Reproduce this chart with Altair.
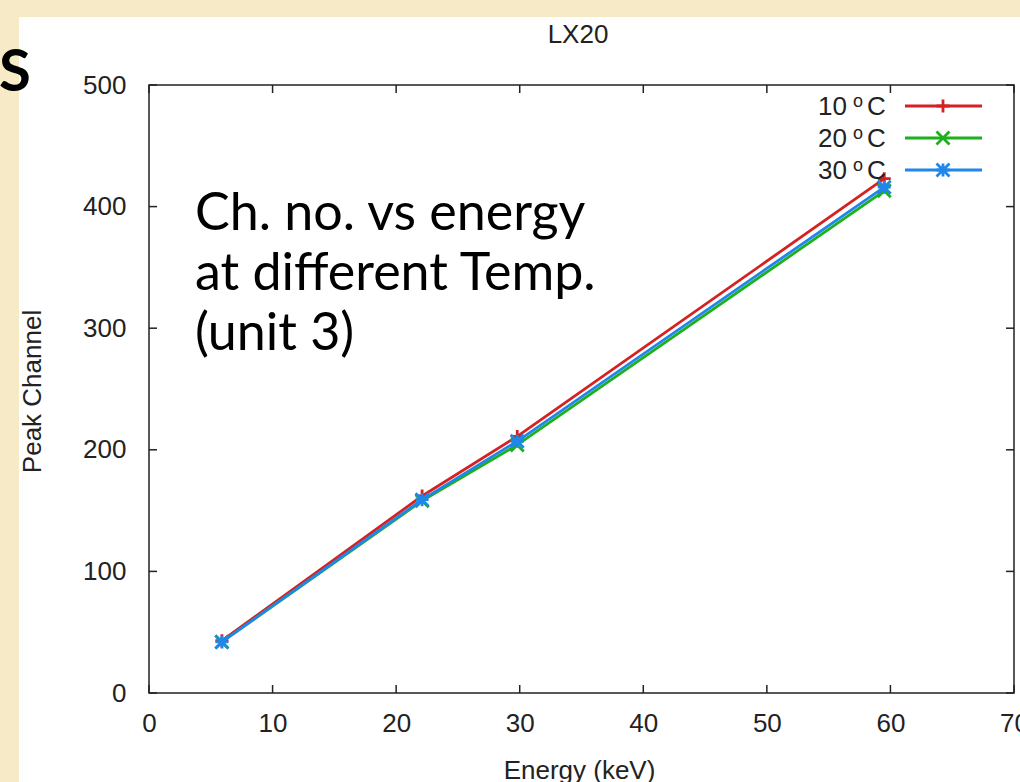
import altair as alt
import pandas as pd

# Peak position of each calibration line at three temperatures
energy_kev = [5.9, 22.1, 29.8, 59.5]
peak_10c = [43, 162, 211, 423]
peak_20c = [42, 158, 204, 413]
peak_30c = [42, 159, 207, 416]

series_temps = ["10", "20", "30"]
series_peaks = [peak_10c, peak_20c, peak_30c]
series_colors = ["#d42222", "#1cb01c", "#1f86ea"]

x_ticks = [0, 10, 20, 30, 40, 50, 60, 70]
y_ticks = [0, 100, 200, 300, 400, 500]

notes = ["Ch. no. vs energy", "at different Temp.", "(unit 3)"]

# Layout
W, H = 865, 608
LEFT, TOP = 149, 85
TOTAL_W, TOTAL_H = 1020, 782
FONT = "Liberation Sans"
INK = "#222222"
BEIGE = "#f6eac7"
TICK = 8

# gnuplot-style point types: plus, cross, star
PLUS = "M-1,0L1,0M0,-1L0,1"
CROSS = "M-1,-1L1,1M-1,1L1,-1"
STAR = PLUS + CROSS
shapes = [PLUS, CROSS, STAR]

xs = alt.Scale(domain=[0, 70], nice=False, zero=False)
ys = alt.Scale(domain=[0, 500], nice=False)

xaxis = alt.Axis(
    values=x_ticks, format="d", title="Energy (keV)", grid=False, ticks=False,
    tickSize=0, domain=False, labelFont=FONT, labelFontSize=26, labelColor=INK,
    labelPadding=17, labelFlush=False, labelOverlap=False,
    titleFont=FONT, titleFontSize=26, titleFontWeight="normal", titleColor=INK,
    titleX=430, titleY=85, titleBaseline="alphabetic", titleAlign="center",
)
yaxis = alt.Axis(
    values=y_ticks, format="d", title="Peak Channel", grid=False, ticks=False,
    tickSize=0, domain=False, labelFont=FONT, labelFontSize=26, labelColor=INK,
    labelPadding=23, labelFlush=False, labelOverlap=False,
    titleFont=FONT, titleFontSize=26, titleFontWeight="normal", titleColor=INK,
    titleAngle=270, titleX=-109, titleY=306, titleBaseline="alphabetic",
    titleAlign="center",
)

one = pd.DataFrame({"d": [0]})
layers = []

# slide background strips around the white panel
layers.append(alt.Chart(one).mark_rect(color=BEIGE).encode(
    x=alt.value(-LEFT), x2=alt.value(-LEFT + 19),
    y=alt.value(-TOP), y2=alt.value(TOTAL_H - TOP)))
layers.append(alt.Chart(one).mark_rect(color=BEIGE).encode(
    x=alt.value(-LEFT), x2=alt.value(TOTAL_W - LEFT),
    y=alt.value(-TOP), y2=alt.value(-TOP + 17)))

# inward ticks on all four sides
xt = pd.DataFrame({"t": x_ticks})
yt = pd.DataFrame({"t": y_ticks})
layers.append(alt.Chart(xt).mark_rule(color=INK, strokeWidth=1.5).encode(
    x=alt.X("t:Q", scale=xs, axis=xaxis), y=alt.value(H), y2=alt.value(H - TICK)))
layers.append(alt.Chart(xt).mark_rule(color=INK, strokeWidth=1.5).encode(
    x=alt.X("t:Q", scale=xs, axis=xaxis), y=alt.value(0), y2=alt.value(TICK)))
layers.append(alt.Chart(yt).mark_rule(color=INK, strokeWidth=1.5).encode(
    y=alt.Y("t:Q", scale=ys, axis=yaxis), x=alt.value(0), x2=alt.value(TICK)))
layers.append(alt.Chart(yt).mark_rule(color=INK, strokeWidth=1.5).encode(
    y=alt.Y("t:Q", scale=ys, axis=yaxis), x=alt.value(W - TICK), x2=alt.value(W)))

# data series: line + points
for temp, peaks, color, shape in zip(series_temps, series_peaks, series_colors, shapes):
    df = pd.DataFrame({"energy": energy_kev, "peak": peaks})
    enc = dict(x=alt.X("energy:Q", scale=xs, axis=xaxis),
               y=alt.Y("peak:Q", scale=ys, axis=yaxis))
    layers.append(alt.Chart(df).mark_line(color=color, strokeWidth=2.8).encode(**enc))
    layers.append(alt.Chart(df).mark_point(
        shape=shape, filled=False, size=169, strokeWidth=2.8, color=color, opacity=1
    ).encode(**enc))

# key in the upper right corner
for i, (temp, color, shape) in enumerate(zip(series_temps, series_colors, shapes)):
    yc = 21 + 32 * i
    layers.append(alt.Chart(one).mark_rule(color=color, strokeWidth=2.8).encode(
        x=alt.value(756), x2=alt.value(833), y=alt.value(yc)))
    layers.append(alt.Chart(one).mark_point(
        shape=shape, filled=False, size=169, strokeWidth=2.8, color=color, opacity=1
    ).encode(x=alt.value(794), y=alt.value(yc)))
    layers.append(alt.Chart(one).mark_text(
        text=temp, align="right", baseline="alphabetic", font=FONT, fontSize=26, color=INK
    ).encode(x=alt.value(698), y=alt.value(yc + 9)))
    layers.append(alt.Chart(one).mark_text(
        text="o", align="left", baseline="alphabetic", font=FONT, fontSize=18, color=INK
    ).encode(x=alt.value(704), y=alt.value(yc + 1)))
    layers.append(alt.Chart(one).mark_text(
        text="C", align="left", baseline="alphabetic", font=FONT, fontSize=26, color=INK
    ).encode(x=alt.value(718), y=alt.value(yc + 9)))

# plot title
layers.append(alt.Chart(one).mark_text(
    text="LX20", align="center", baseline="alphabetic", font=FONT, fontSize=26, color=INK
).encode(x=alt.value(429), y=alt.value(-42)))

# slide annotation
layers.append(alt.Chart(one).mark_text(
    text=notes, align="left", baseline="alphabetic", font="Lato", fontSize=52,
    lineHeight=60, color="#000000"
).encode(x=alt.value(46), y=alt.value(145)))

# edge of the slide heading
layers.append(alt.Chart(one).mark_text(
    text="S", align="left", baseline="alphabetic", font="Lato", fontSize=58,
    fontWeight="bold", color="#000000"
).encode(x=alt.value(-LEFT - 1), y=alt.value(6)))

chart = alt.layer(*layers).properties(
    width=W, height=H, background="white",
    padding={"left": LEFT, "top": TOP, "right": TOTAL_W - LEFT - W,
             "bottom": TOTAL_H - TOP - H},
    autosize=alt.AutoSizeParams(type="none"),
).configure_view(stroke=INK, strokeWidth=1.5)

chart.save("out.html", embed_options={"renderer": "svg", "actions": False})
